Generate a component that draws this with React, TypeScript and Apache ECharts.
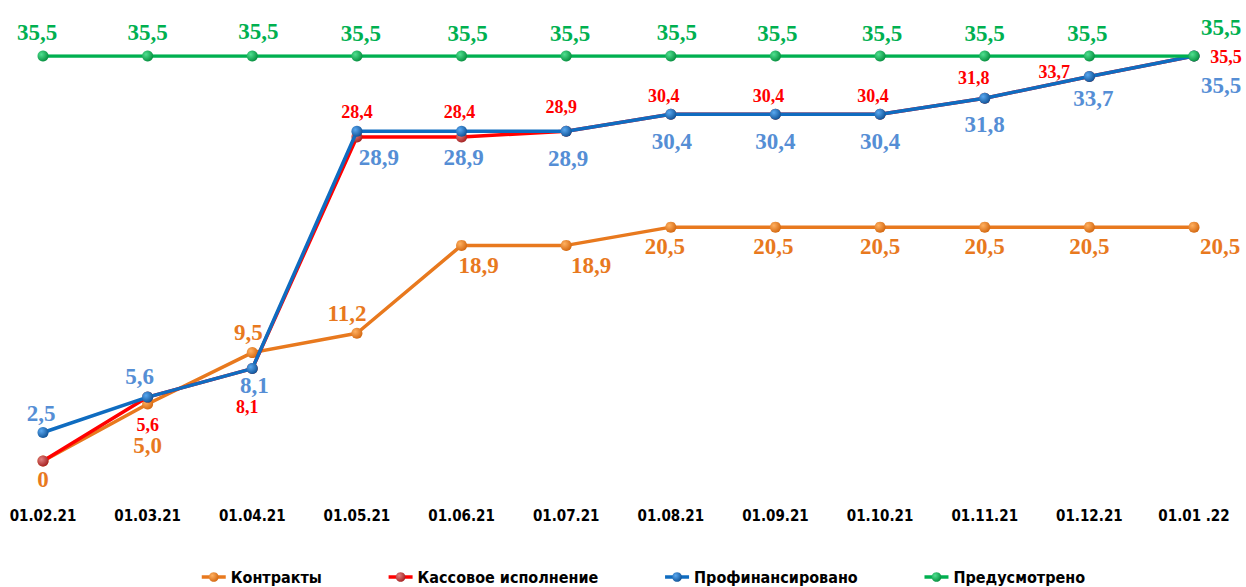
import React, { useEffect, useRef } from "react";
import * as echarts from "echarts";

const categories = ["01.02.21", "01.03.21", "01.04.21", "01.05.21", "01.06.21", "01.07.21", "01.08.21", "01.09.21", "01.10.21", "01.11.21", "01.12.21", "01.01 .22"];
const contracts = [0, 5.0, 9.5, 11.2, 18.9, 18.9, 20.5, 20.5, 20.5, 20.5, 20.5, 20.5];
const cashExec = [0, 5.6, 8.1, 28.4, 28.4, 28.9, 30.4, 30.4, 30.4, 31.8, 33.7, 35.5];
const financed = [2.5, 5.6, 8.1, 28.9, 28.9, 28.9, 30.4, 30.4, 30.4, 31.8, 33.7, 35.5];
const planned = [35.5, 35.5, 35.5, 35.5, 35.5, 35.5, 35.5, 35.5, 35.5, 35.5, 35.5, 35.5];

// label offsets (label centre relative to point), null = no label
const contractsOff: ([number, number] | null)[] = [[0, 18], [0, 42], [-4, -20], [-10, -20], [17, 20], [25, 20], [-6, 19], [-2, 19], [0, 19], [0, 19], [0, 19], [26, 19]];
const cashOff: ([number, number] | null)[] = [null, [0, 28], [-5, 38], [0, -25], [-2, -25], [-5, -24], [-7, -18], [-7, -18], [-7, -18], [-11, -20], [-35, -5], [32, 1]];
const financedOff: ([number, number] | null)[] = [[-2, -19], [-8, -21], [2, 17], [22, 26], [2, 26], [2, 27], [1, 27], [0, 27], [0, 27], [0, 26], [4, 22], [27, 29]];
const plannedOff: ([number, number] | null)[] = [[-6, -24], [0, -24], [6, -25], [4, -23], [6, -23], [4, -23], [6, -24], [2, -23], [2, -23], [0, -23], [-2, -23], [27, -29]];

const fmt = (v: number) => v === 0 ? "0" : v.toFixed(1).replace(".", ",");

function ball(light: string, dark: string) {
  return new echarts.graphic.RadialGradient(0.35, 0.35, 0.75, [
    { offset: 0, color: light },
    { offset: 1, color: dark },
  ]);
}

function makeSeries(name: string, values: number[], offs: ([number, number] | null)[], lineColor: string, markerLight: string, markerDark: string, labelColor: string, fontSize: number, z: number) {
  return {
    name,
    type: "line",
    z,
    symbol: "circle",
    symbolSize: 11,
    lineStyle: { color: lineColor, width: 3.5 },
    itemStyle: { color: ball(markerLight, markerDark), borderWidth: 0 },
    emphasis: { disabled: true },
    data: values.map((v, i) => {
      const o = offs[i];
      return {
        value: v,
        label: o
          ? {
              show: true,
              position: "inside",
              offset: o,
              formatter: fmt(v),
              color: labelColor,
              fontFamily: "'Liberation Serif', 'Times New Roman', serif",
              fontWeight: "bold",
              fontSize,
            }
          : { show: false },
      };
    }),
  };
}

export default function App() {
  const ref = useRef<HTMLDivElement>(null);
  useEffect(() => {
    if (!ref.current) return;
    const chart = echarts.init(ref.current, undefined, { renderer: "svg" });
    chart.setOption({
      animation: false,
      backgroundColor: "#ffffff",
      grid: { left: 43, right: 52, top: 56, bottom: 126 },
      legend: {
        top: 564,
        left: 195,
        itemWidth: 24,
        itemHeight: 12,
        itemGap: 65,
        lineStyle: { width: 3.5 },
        textStyle: {
          fontFamily: "'Liberation Sans Narrow', 'DejaVu Sans Condensed', 'Open Sans', sans-serif",
          fontWeight: "bold",
          fontSize: 16,
          color: "#000",
        },
        data: ["Контракты", "Кассовое исполнение", "Профинансировано", "Предусмотрено"],
      },
      xAxis: {
        type: "category",
        boundaryGap: false,
        data: categories,
        axisLine: { show: false },
        axisTick: { show: false },
        axisLabel: {
          margin: 47,
          interval: 0,
          color: "#000",
          fontFamily: "'Liberation Sans Narrow', 'DejaVu Sans Condensed', 'Open Sans', sans-serif",
          fontWeight: "bold",
          fontSize: 15,
        },
      },
      yAxis: { type: "value", min: 0, max: 35.5, show: false, splitLine: { show: false } },
      series: [
        makeSeries("Контракты", contracts, contractsOff, "#E8791E", "#FFB060", "#D0620A", "#E8791E", 23, 2),
        makeSeries("Кассовое исполнение", cashExec, cashOff, "#FF0000", "#E08080", "#A01818", "#FF0000", 18, 3),
        makeSeries("Профинансировано", financed, financedOff, "#0F6CC0", "#5AA8F0", "#0A4C90", "#558ED5", 23, 4),
        makeSeries("Предусмотрено", planned, plannedOff, "#00B050", "#50E090", "#008838", "#00B050", 23, 5),
      ],
    });
    return () => chart.dispose();
  }, []);
  return <div ref={ref} style={{ position: "fixed", left: 0, top: 0, width: 1246, height: 587 }} />;
}
